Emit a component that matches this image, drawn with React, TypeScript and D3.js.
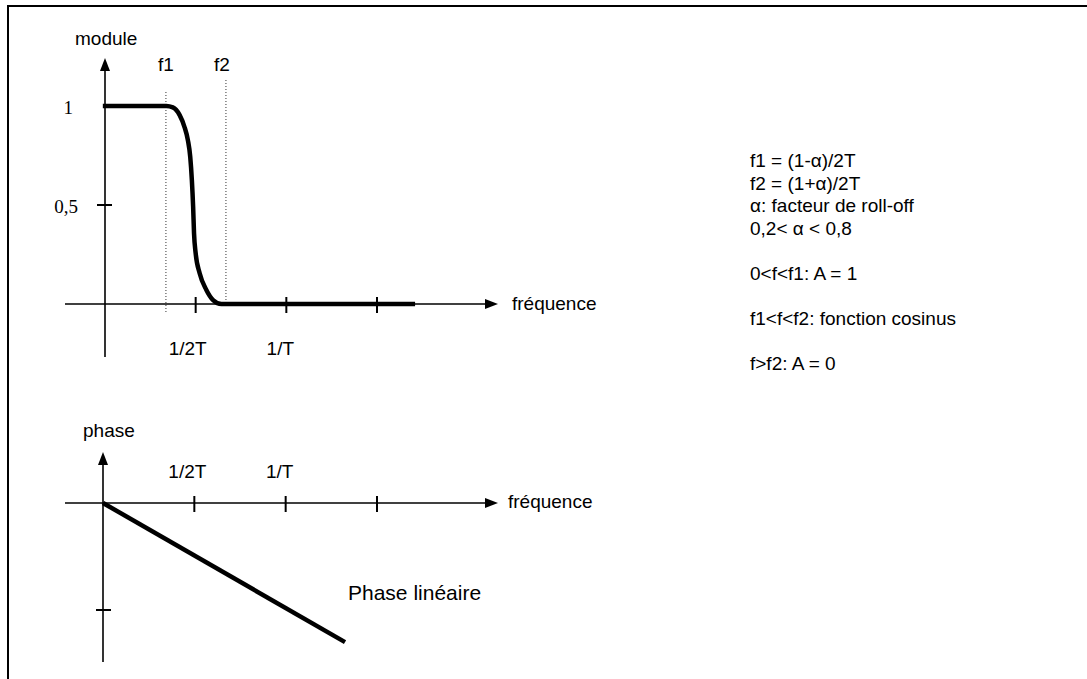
import React from "react";
import * as d3 from "d3";

// ---- data ----
// frequency in units of 1/T
const freqTicks = [0.5, 1, 1.5];
const freqTickLabels = ["1/2T", "1/T", ""];
const f1 = 0.336;
const f2 = 0.667;
// module curve samples: [frequency, amplitude]
const moduleFreq = [-0.012, 0.338, 0.374, 0.411, 0.438, 0.457, 0.47, 0.479, 0.486, 0.491, 0.5, 0.522, 0.559, 0.596, 0.642, 0.667, 1.71];
const moduleAmp = [1, 1, 0.993, 0.955, 0.895, 0.828, 0.744, 0.626, 0.491, 0.357, 0.256, 0.155, 0.071, 0.02, 0, 0, 0];
const moduleTicks = [0.5, 1];
const moduleTickLabels = ["0,5", "1"];
// phase samples: [frequency, phase]
const phaseFreq = [0, 1.325];
const phaseVal = [0, -1.3];
const phaseTicks = [-1];
const notes = [
  "f1 = (1-α)/2T",
  "f2 = (1+α)/2T",
  "α: facteur de roll-off",
  "0,2< α < 0,8",
  "",
  "0<f<f1: A = 1",
  "",
  "f1<f<f2: fonction cosinus",
  "",
  "f>f2: A = 0",
];

const SANS = "'Liberation Sans', Arial, sans-serif";
const SERIF = "'Liberation Serif', 'Times New Roman', serif";
const FS = 19;

export default function App() {
  // top chart scales
  const xTop = d3.scaleLinear().domain([0, 1.5]).range([105, 377]);
  const yTop = d3.scaleLinear().domain([0, 1]).range([304, 106]);
  // bottom chart scales
  const xBot = d3.scaleLinear().domain([0, 1.5]).range([103, 377]);
  const yBot = d3.scaleLinear().domain([0, -1]).range([503, 610]);

  const moduleLine = d3
    .line<number>()
    .x((_, i) => xTop(moduleFreq[i]))
    .y((d) => yTop(d))
    .curve(d3.curveMonotoneX)(moduleAmp) as string;

  const phaseLine = d3
    .line<number>()
    .x((_, i) => xBot(phaseFreq[i]))
    .y((d) => yBot(d))(phaseVal) as string;

  const x0T = xTop(0), y0T = yTop(0);
  const x0B = xBot(0), y0B = yBot(0);

  const arrowUp = (x: number, y: number) => `M${x},${y} L${x - 5},${y + 13} L${x + 5},${y + 13} Z`;
  const arrowRight = (x: number, y: number) => `M${x},${y} L${x - 13},${y - 5} L${x - 13},${y + 5} Z`;

  const axisStroke = 1.6;

  return (
    <svg
      width={1087}
      height={679}
      style={{ position: "absolute", left: 0, top: 0, background: "#fff" }}
    >
      <rect x={0} y={0} width={1087} height={679} fill="#fff" />
      {/* frame */}
      <rect x={8} y={6} width={1200} height={800} fill="none" stroke="#000" strokeWidth={2} />

      {/* ===== top chart: module ===== */}
      <text x={75} y={45} fontFamily={SANS} fontSize={FS}>module</text>
      {/* dotted f1, f2 */}
      <line x1={xTop(f1)} x2={xTop(f1)} y1={92} y2={313} stroke="#333" strokeWidth={1} strokeDasharray="1,2" />
      <line x1={xTop(f2)} x2={xTop(f2)} y1={80} y2={304} stroke="#333" strokeWidth={1} strokeDasharray="1,2" />
      <text x={xTop(f1)} y={71} fontFamily={SANS} fontSize={FS} textAnchor="middle">f1</text>
      <text x={xTop(f2) - 4} y={71} fontFamily={SANS} fontSize={FS} textAnchor="middle">f2</text>
      {/* axes */}
      <line x1={x0T} x2={x0T} y1={66} y2={357} stroke="#000" strokeWidth={axisStroke} />
      <path d={arrowUp(x0T, 58)} fill="#000" />
      <line x1={65} x2={488} y1={y0T} y2={y0T} stroke="#000" strokeWidth={axisStroke} />
      <path d={arrowRight(498, y0T)} fill="#000" />
      <text x={512} y={310} fontFamily={SANS} fontSize={FS}>fréquence</text>
      {freqTicks.map((t, i) => (
        <g key={"tt" + i}>
          <line x1={xTop(t)} x2={xTop(t)} y1={y0T - 7} y2={y0T + 9} stroke="#000" strokeWidth={2} />
          {freqTickLabels[i] && (
            <text x={xTop(t) - 8 + (i === 1 ? 2 : 0)} y={355} fontFamily={SANS} fontSize={FS} textAnchor="middle">
              {freqTickLabels[i]}
            </text>
          )}
        </g>
      ))}
      {moduleTicks.map((t, i) => (
        <g key={"mt" + i}>
          {t !== 1 && <line x1={x0T - 8} x2={x0T + 7} y1={yTop(t)} y2={yTop(t)} stroke="#000" strokeWidth={2} />}
          <text x={t === 1 ? 73 : 78} y={yTop(t) + 8} fontFamily={SERIF} fontSize={FS} textAnchor="end">
            {moduleTickLabels[i]}
          </text>
        </g>
      ))}
      <path d={moduleLine} fill="none" stroke="#000" strokeWidth={4.5} />

      {/* ===== bottom chart: phase ===== */}
      <text x={83} y={437} fontFamily={SANS} fontSize={FS}>phase</text>
      <line x1={x0B} x2={x0B} y1={460} y2={662} stroke="#000" strokeWidth={axisStroke} />
      <path d={arrowUp(x0B, 452)} fill="#000" />
      <line x1={65} x2={488} y1={y0B} y2={y0B} stroke="#000" strokeWidth={axisStroke} />
      <path d={arrowRight(498, y0B)} fill="#000" />
      <text x={508} y={508} fontFamily={SANS} fontSize={FS}>fréquence</text>
      {freqTicks.map((t, i) => (
        <g key={"bt" + i}>
          <line x1={xBot(t)} x2={xBot(t)} y1={y0B - 7} y2={y0B + 9} stroke="#000" strokeWidth={2} />
          {freqTickLabels[i] && (
            <text x={xBot(t) - 7 + (i === 1 ? 1 : 0)} y={478} fontFamily={SANS} fontSize={FS} textAnchor="middle">
              {freqTickLabels[i]}
            </text>
          )}
        </g>
      ))}
      {phaseTicks.map((t, i) => (
        <line key={"pt" + i} x1={x0B - 7} x2={x0B + 8} y1={yBot(t)} y2={yBot(t)} stroke="#000" strokeWidth={2} />
      ))}
      <path d={phaseLine} fill="none" stroke="#000" strokeWidth={4.5} />
      <text x={348} y={600} fontFamily={SANS} fontSize={21}>Phase linéaire</text>

      {/* ===== notes ===== */}
      {notes.map((s, i) => (
        <text key={"n" + i} x={750} y={167 + i * 22.6} fontFamily={SANS} fontSize={FS}>
          {s}
        </text>
      ))}
    </svg>
  );
}
